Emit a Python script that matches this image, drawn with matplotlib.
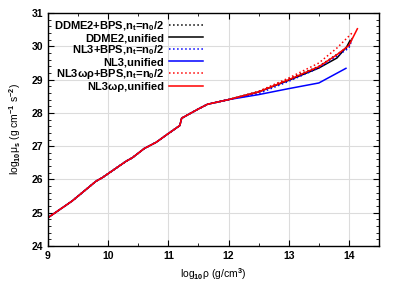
import numpy as np
import matplotlib
matplotlib.use("Agg")
import matplotlib.pyplot as plt
from matplotlib.ticker import MultipleLocator

plt.rcParams['font.family'] = ['Liberation Sans', 'DejaVu Sans']
plt.rcParams['font.weight'] = 'bold'
plt.rcParams['mathtext.fontset'] = 'custom'
plt.rcParams['mathtext.rm'] = 'Liberation Sans:bold'
plt.rcParams['mathtext.it'] = 'Liberation Sans:bold'
plt.rcParams['mathtext.default'] = 'rm'

# common outer crust (all models overlap here)
crust_rho = [9.0, 9.4, 9.8, 9.9, 10.3, 10.4, 10.6, 10.8, 11.0, 11.19, 11.22, 11.5, 11.65, 12.0]
crust_mu = [24.85, 25.35, 25.95, 26.05, 26.55, 26.65, 26.93, 27.12, 27.38, 27.62, 27.84, 28.12, 28.26, 28.40]

# inner crust, per model
ddme2_bps_rho = [12.5, 13.0, 13.5, 14.0, 14.05]
ddme2_bps_mu = [28.64, 29.02, 29.40, 30.00, 30.25]
ddme2_uni_rho = [12.5, 13.0, 13.5, 13.8, 13.96, 14.02]
ddme2_uni_mu = [28.63, 28.98, 29.35, 29.65, 29.98, 30.18]
nl3_bps_rho = [12.5, 13.0, 13.5, 14.0, 14.05]
nl3_bps_mu = [28.58, 28.95, 29.35, 29.95, 30.20]
nl3_uni_rho = [12.5, 13.0, 13.5, 13.95]
nl3_uni_mu = [28.55, 28.73, 28.90, 29.34]
nl3wr_bps_rho = [12.5, 13.0, 13.5, 13.8, 14.05]
nl3wr_bps_mu = [28.65, 29.05, 29.50, 29.95, 30.40]
nl3wr_uni_rho = [12.5, 13.0, 13.5, 13.8, 14.0, 14.14]
nl3wr_uni_mu = [28.63, 29.00, 29.39, 29.75, 30.03, 30.53]

labels = ["DDME2+BPS,n$_t$=n$_0$/2", "DDME2,unified",
          "NL3+BPS,n$_t$=n$_0$/2", "NL3,unified",
          "NL3ωρ+BPS,n$_t$=n$_0$/2", "NL3ωρ,unified"]

fig = plt.figure(figsize=(3.99, 2.85), dpi=100)
ax = fig.add_axes([0.1203, 0.137, 0.8297, 0.817])

series = [
    (ddme2_bps_rho, ddme2_bps_mu, 'black', ':'),
    (ddme2_uni_rho, ddme2_uni_mu, 'black', '-'),
    (nl3_bps_rho, nl3_bps_mu, 'blue', ':'),
    (nl3_uni_rho, nl3_uni_mu, 'blue', '-'),
    (nl3wr_bps_rho, nl3wr_bps_mu, 'red', ':'),
    (nl3wr_uni_rho, nl3wr_uni_mu, 'red', '-'),
]
for (r, m, c, ls), lab in zip(series, labels):
    ax.plot(crust_rho + r, crust_mu + m, color=c, ls=ls, lw=1.1, label=lab)

ax.set_xlim(9, 14.5)
ax.set_ylim(24, 31)
ax.xaxis.set_major_locator(MultipleLocator(1))
ax.xaxis.set_minor_locator(MultipleLocator(0.5))
ax.yaxis.set_major_locator(MultipleLocator(1))
ax.yaxis.set_minor_locator(MultipleLocator(0.2))
ax.tick_params(which='both', direction='in', top=True, right=True, labelsize=7.5)
ax.tick_params(which='major', length=4)
ax.tick_params(which='minor', length=2)
ax.grid(True, which='major', color='#dcdcdc', lw=0.8)
ax.set_axisbelow(True)
for s in ax.spines.values():
    s.set_linewidth(1.0)

ax.set_xlabel("log$_{10}$ρ (g/cm$^3$)", fontsize=7.5, labelpad=4)
ax.set_ylabel("log$_{10}$μ$_s$ (g cm$^{-1}$ s$^{-2}$)", fontsize=7.5, labelpad=6)

leg = ax.legend(loc='upper left', frameon=False, markerfirst=False, fontsize=8,
                handlelength=3.0, labelspacing=0.02, borderaxespad=0.15,
                handletextpad=0.45, bbox_to_anchor=(0.0, 1.0))

fig.savefig("out.png", dpi=100)
